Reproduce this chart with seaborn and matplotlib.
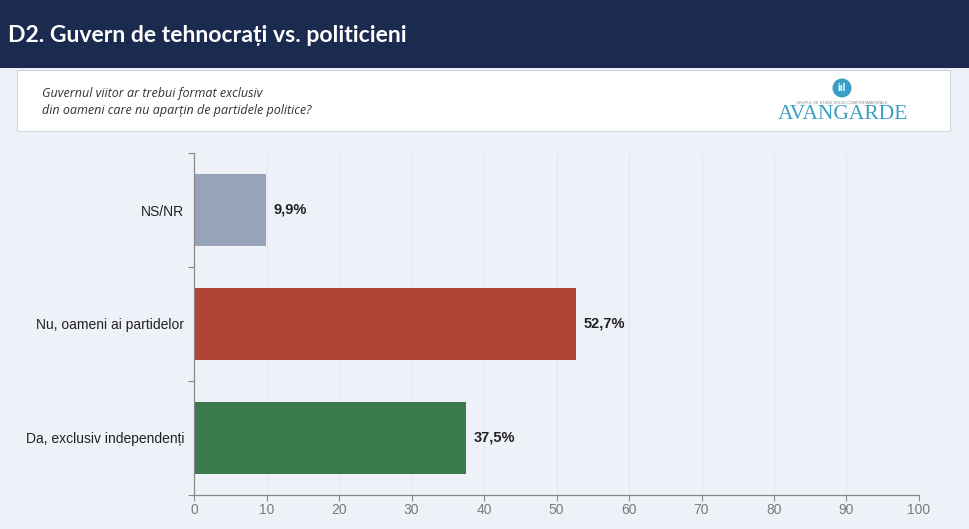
import matplotlib
matplotlib.use("Agg")
import matplotlib.pyplot as plt
import seaborn as sns
import pandas as pd
from matplotlib.patches import Rectangle, Circle

categories = ["NS/NR", "Nu, oameni ai partidelor", "Da, exclusiv independenți"]
values = [9.9, 52.7, 37.5]
value_labels = ["9,9%", "52,7%", "37,5%"]
colors = ["#97a3b8", "#b04535", "#3b7a4c"]
x_ticks = [0, 10, 20, 30, 40, 50, 60, 70, 80, 90, 100]

title = "D2. Guvern de tehnocrați vs. politicieni"
subtitle = "Guvernul viitor ar trebui format exclusiv\ndin oameni care nu aparțin de partidele politice?"

sns.set_theme(style="ticks")
plt.rcParams["font.family"] = ["Liberation Sans", "DejaVu Sans"]

bg = "#eef1f7"
fig = plt.figure(figsize=(9.7, 5.29), dpi=100, facecolor=bg)

# header band
fig.patches.append(Rectangle((0, 1 - 68 / 529), 1, 68 / 529, transform=fig.transFigure,
                             facecolor="#1b2a4f", edgecolor="none", zorder=0))
fig.text(8 / 970, 1 - 35 / 529, title, color="white", fontsize=16.6, fontweight="bold",
         family=["Lato", "DejaVu Sans"], va="center", ha="left")

# subtitle box
fig.patches.append(Rectangle((17 / 970, 1 - 131 / 529), (950 - 17) / 970, (131 - 70) / 529,
                             transform=fig.transFigure, facecolor="white",
                             edgecolor="#d0d4dc", linewidth=0.8, zorder=0))
fig.text(42 / 970, 1 - 102 / 529, subtitle, color="#333333", fontsize=9, style="italic",
         family=["Open Sans", "DejaVu Sans"], va="center", ha="left", linespacing=1.45)

# logo
fig.patches.append(Circle((8.42, (529 - 88) / 100), 0.095, transform=fig.dpi_scale_trans,
                          facecolor="#3a9fc4", edgecolor="none", zorder=1))
fig.text(842 / 970, 1 - 88 / 529, "iıl", color="white", fontsize=7, fontweight="bold",
         ha="center", va="center")
fig.text(842 / 970, 1 - 102.5 / 529, "GRUPUL DE STUDII SOCIO-COMPORTAMENTALE", color="#7a8a99",
         fontsize=2.8, ha="center", va="center")
fig.text(843 / 970, 1 - 114.5 / 529, "AVANGARDE", color="#3a9fc4", fontsize=15.5,
         family=["Liberation Serif", "DejaVu Serif"], ha="center", va="center")

# axes
ax = fig.add_axes([194 / 970, 1 - 495 / 529, (919 - 194) / 970, (495 - 153) / 529])
ax.set_facecolor(bg)
df = pd.DataFrame({"cat": categories, "val": values})
sns.barplot(data=df, x="val", y="cat", hue="cat", palette=colors, legend=False,
            orient="h", width=0.64, ax=ax, saturation=1, linewidth=0)
ax.set_xlim(0, 100)
ax.set_ylim(2.5, -0.5)
ax.set_xticks(x_ticks)
ax.set_xticklabels([str(t) for t in x_ticks], color="#7a7a7a", fontsize=10,
                   family=["Liberation Sans Narrow", "Liberation Sans"])
ax.set_xlabel("")
ax.set_ylabel("")
ax.tick_params(axis="y", which="major", left=True, length=0, labelsize=10,
               labelcolor="#222222", pad=7)
ax.tick_params(axis="x", bottom=True, length=4, color="#888888", width=0.8,
               direction="out", pad=2)
ax.set_yticks([-0.5, 0.5, 1.5, 2.5], minor=True)
ax.tick_params(axis="y", which="minor", left=True, length=4, color="#888888", width=0.8)
ax.grid(axis="x", color="#e0e3ea", linewidth=0.6)
ax.set_axisbelow(True)
for s in ["top", "right"]:
    ax.spines[s].set_visible(False)
for s in ["left", "bottom"]:
    ax.spines[s].set_color("#888888")
    ax.spines[s].set_linewidth(0.9)

for i, (v, lab) in enumerate(zip(values, value_labels)):
    ax.text(v + 1.1, i, lab, va="center", ha="left", fontsize=10.5, fontweight="bold",
            color="#222222")

fig.savefig("out.png", dpi=100, facecolor=bg)
